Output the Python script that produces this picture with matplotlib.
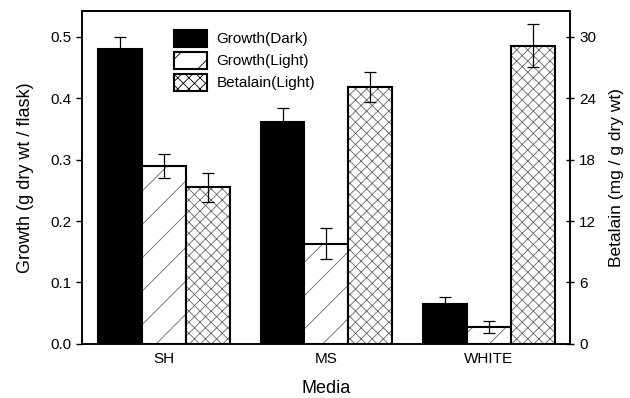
import numpy as np
import matplotlib
matplotlib.use("Agg")
import matplotlib.pyplot as plt
from matplotlib.patches import Patch

plt.rcParams['font.family'] = ['Liberation Sans', 'DejaVu Sans']
plt.rcParams['hatch.linewidth'] = 0.6

media = ["SH", "MS", "WHITE"]
growth_dark = [0.480, 0.362, 0.065]
growth_dark_err = [0.020, 0.023, 0.012]
growth_light = [0.290, 0.163, 0.027]
growth_light_err = [0.020, 0.025, 0.010]
betalain_light = [15.3, 25.1, 29.1]
betalain_light_err = [1.4, 1.5, 2.1]

x = np.arange(len(media))
w = 0.27
hcol = '#666666'

fig = plt.figure(figsize=(6.3, 3.98), dpi=100)
ax1 = fig.add_axes([0.130, 0.136, 0.775, 0.836])
ax2 = ax1.twinx()

ekw = dict(elinewidth=0.9, capsize=4, capthick=0.9, ecolor='black')
b1 = ax1.bar(x - w, growth_dark, w, yerr=growth_dark_err, color='black',
             edgecolor='black', linewidth=1.5, error_kw=ekw)
# hatch drawn in grey, outline drawn on top in black
ax1.bar(x, growth_light, w, color='white', edgecolor=hcol, linewidth=0,
        hatch='/')
ax1.bar(x, growth_light, w, yerr=growth_light_err, color='none',
        edgecolor='black', linewidth=1.5, error_kw=ekw)
ax2.bar(x + w, betalain_light, w, color='white', edgecolor=hcol, linewidth=0,
        hatch='xxx')
ax2.bar(x + w, betalain_light, w, yerr=betalain_light_err, color='none',
        edgecolor='black', linewidth=1.5, error_kw=ekw)

ax1.set_xlim(-0.505, 2.5)
ax1.set_ylim(0, 0.542)
ax2.set_ylim(0, 32.5)
ax1.set_yticks([0.0, 0.1, 0.2, 0.3, 0.4, 0.5])
ax1.set_yticklabels(['0.0', '0.1', '0.2', '0.3', '0.4', '0.5'])
ax2.set_yticks([0, 6, 12, 18, 24, 30])
ax1.set_xticks(x)
ax1.set_xticklabels(media)

ax1.tick_params(axis='y', direction='out', length=4, labelsize=11, width=1)
ax1.tick_params(axis='x', length=0, labelsize=11, pad=6)
ax2.tick_params(axis='y', direction='inout', length=6, labelsize=11, width=1)
for a in (ax1, ax2):
    for s in a.spines.values():
        s.set_linewidth(1.2)

ax1.set_ylabel('Growth (g dry wt / flask)', fontsize=13, labelpad=12)
ax2.set_ylabel('Betalain (mg / g dry wt)', fontsize=12.5, labelpad=9)
ax1.set_xlabel('Media', fontsize=13, labelpad=10)

h1 = Patch(facecolor='black', edgecolor='black', linewidth=1.5)
h2 = Patch(facecolor='white', edgecolor='black', linewidth=1.5, hatch='/')
h3 = Patch(facecolor='white', edgecolor='black', linewidth=1.5, hatch='xxx')
ax1.legend([h1, h2, h3], ['Growth(Dark)', 'Growth(Light)', 'Betalain(Light)'],
           loc='upper left', bbox_to_anchor=(0.16, 0.985), frameon=False,
           fontsize=11, handlelength=2.2, handleheight=1.3, labelspacing=0.35,
           handletextpad=0.6)

fig.savefig('out.png', dpi=100)
